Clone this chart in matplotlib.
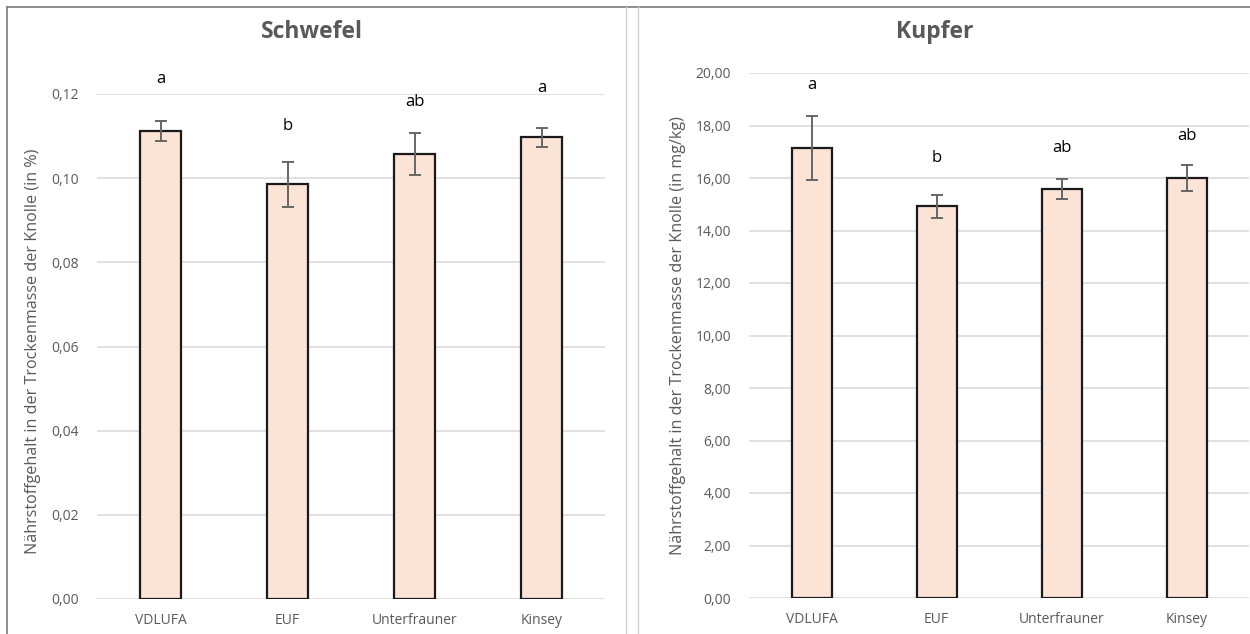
import matplotlib
matplotlib.use("Agg")
import matplotlib.pyplot as plt
from matplotlib.ticker import FuncFormatter, MultipleLocator
from matplotlib.lines import Line2D

plt.rcParams['font.family'] = ['Open Sans', 'DejaVu Sans']

categories = ["VDLUFA", "EUF", "Unterfrauner", "Kinsey"]

s_values = [0.1113, 0.0985, 0.1058, 0.1097]
s_errors = [0.0024, 0.0053, 0.0050, 0.0022]
s_letters = ["a", "b", "ab", "a"]
s_letter_y = [0.1235, 0.1125, 0.1180, 0.1215]

cu_values = [17.13, 14.93, 15.58, 16.00]
cu_errors = [1.22, 0.44, 0.37, 0.50]
cu_letters = ["a", "b", "ab", "ab"]
cu_letter_y = [19.55, 16.75, 17.15, 17.60]

W, H = 1250, 634
fig = plt.figure(figsize=(W / 100, H / 100), dpi=100)

GRAY = "#595959"
BAR = "#FBE3D6"


def panel(rect, values, errors, letters, letter_y, ymax, step, decimals, ylabel):
    ax = fig.add_axes(rect)
    x = list(range(len(categories)))
    ax.bar(x, values, width=0.32, color=BAR, edgecolor="#1a1a1a", linewidth=1.6, zorder=3)
    ax.errorbar(x, values, yerr=errors, fmt="none", ecolor="#666666", elinewidth=1.4,
                capsize=4.5, capthick=1.4, zorder=4)
    ax.set_xlim(-0.5, len(categories) - 0.5)
    ax.set_ylim(0, ymax)
    ax.yaxis.set_major_locator(MultipleLocator(step))
    ax.yaxis.set_major_formatter(FuncFormatter(lambda v, p: f"{v:.{decimals}f}".replace(".", ",")))
    ax.grid(axis="y", color="#D9D9D9", linewidth=1.1, zorder=0)
    ax.set_axisbelow(True)
    for sp in ax.spines.values():
        sp.set_visible(False)
    ax.tick_params(axis="both", length=0, colors=GRAY, labelsize=10)
    ax.tick_params(axis="y", pad=13)
    ax.tick_params(axis="x", pad=10)
    ax.set_xticks(x)
    ax.set_xticklabels(categories)
    for xi, lt, ly in zip(x, letters, letter_y):
        ax.text(xi, ly, lt, ha="center", va="center", fontsize=12, color="black", clip_on=False)
    ax.set_ylabel(ylabel, color=GRAY, fontsize=11.6, va="center")
    return ax


ax1 = panel([97 / W, 1 - 599 / H, 508 / W, 505 / H], s_values, s_errors, s_letters, s_letter_y,
            0.12, 0.02, 2, "Nährstoffgehalt in der Trockenmasse der Knolle (in %)")
ax1.yaxis.set_label_coords(-(97 - 33) / 508, 0.49)
fig.text(312 / W, 1 - 32 / H, "Schwefel", ha="center", va="center", fontsize=16.5,
         fontweight="bold", color=GRAY)

ax2 = panel([749 / W, 1 - 598 / H, 500 / W, 525 / H], cu_values, cu_errors, cu_letters, cu_letter_y,
            20, 2, 2, "Nährstoffgehalt in der Trockenmasse der Knolle (in mg/kg)")
ax2.yaxis.set_label_coords(-(749 - 678) / 500, 0.5)
fig.text(935 / W, 1 - 32 / H, "Kupfer", ha="center", va="center", fontsize=16.5,
         fontweight="bold", color=GRAY)


def fline(x0, y0, x1, y1, color, lw):
    fig.add_artist(Line2D([x0 / W, x1 / W], [1 - y0 / H, 1 - y1 / H], color=color, linewidth=lw,
                          transform=fig.transFigure))


fline(7, 7, W, 7, "#7a7a7a", 1.2)
fline(7, 7, 7, H, "#7a7a7a", 1.2)
fline(626, 7, 626, H, "#d0d0d0", 1.0)
fline(638, 7, 638, H, "#d0d0d0", 1.0)

fig.savefig("out.png", dpi=100, facecolor="white")
